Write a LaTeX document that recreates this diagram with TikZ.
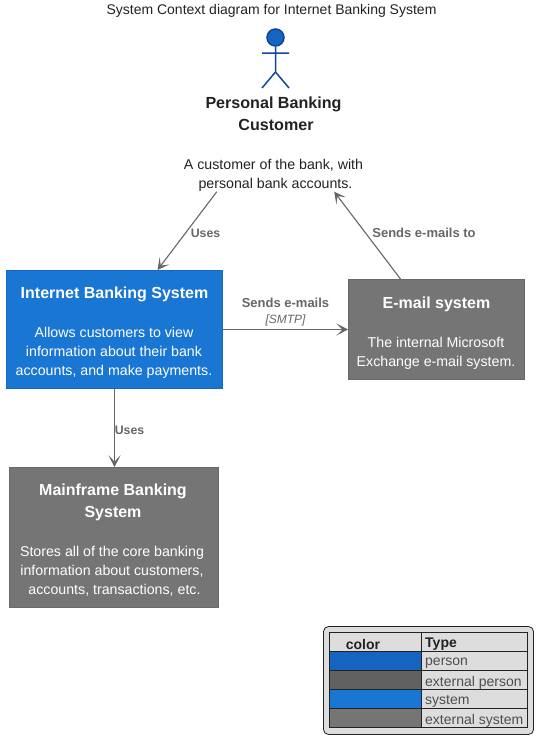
\documentclass[tikz,border=0pt]{standalone}
\usepackage{fontspec}
\setmainfont{Liberation Sans}
\usetikzlibrary{arrows.meta}
\definecolor{cperson}{HTML}{1565C0}
\definecolor{cperline}{HTML}{0D47A1}
\definecolor{cextp}{HTML}{616161}
\definecolor{csys}{HTML}{1976D2}
\definecolor{cext}{HTML}{757575}
\definecolor{clink}{HTML}{666666}
\definecolor{clegend}{HTML}{DDDDDD}
\definecolor{cdark}{HTML}{222222}
\newcommand{\fs}[2]{\fontsize{#1pt}{#2pt}\selectfont}
\tikzset{
  x=1pt,y=-1pt,
  ttl/.style={font=\fs{16}{22}\bfseries,text=white,align=center,inner sep=0pt,anchor=center},
  dsc/.style={font=\fs{14.2}{19},text=white,align=center,inner sep=0pt,anchor=center},
  link/.style={draw=clink,line width=1.1pt,-{Stealth[length=11.5pt,width=12pt,inset=6pt,line width=1pt,fill=clink]}},
  lbl/.style={font=\fs{13}{14}\bfseries,text=clink,inner sep=0pt,anchor=center},
  lbls/.style={font=\fs{12.3}{14}\bfseries,text=clink,inner sep=0pt,anchor=center},
  actor/.style={draw=cperline,line width=1.5pt},
  cellhead/.style={font=\fs{14}{14}\bfseries,text=cdark,inner sep=0pt,anchor=center},
  cell/.style={font=\fs{14}{14},text=cdark!80,inner sep=0pt,anchor=west},
  tline/.style={draw=cdark,line width=1pt},
}
\begin{document}
\begin{tikzpicture}
\useasboundingbox (0,0) rectangle (543,744);
\node[font=\fs{14}{16},text=cdark,inner sep=0pt] (title) at (271.5,11) {System Context diagram for Internet Banking System};
% actor
\node[circle,fill=cperson,draw=cperline,line width=1.5pt,minimum size=17pt,inner sep=0pt] (head) at (275.5,37.5) {};
\coordinate (hip) at (275.5,72);
\coordinate (arml) at (262,53);
\coordinate (armr) at (289,53);
\coordinate (legl) at (262,88);
\coordinate (legr) at (289,88);
\draw[actor] (head) -- (hip) (arml) -- (armr) (legl) -- (hip) -- (legr);
\node[font=\fs{16.1}{22}\bfseries,text=cdark,align=center,inner sep=0pt] (cust) at (273.5,113.5) {Personal Banking\\\hspace*{5pt}Customer};
\node[font=\fs{14.2}{19},text=cdark,align=center,inner sep=0pt,minimum width=183pt,minimum height=36pt] (desc) at (275.5,173.5) {};
\node[font=\fs{14.2}{19},text=cdark,align=center,inner sep=0pt] (desct) at (273.5,175) {A customer of the bank, with\\\hspace*{4pt}personal bank accounts.};
% boxes
\node[draw=csys!90!black,fill=csys,line width=1pt,minimum width=216pt,minimum height=118pt,inner sep=0pt] (ibs) at (114.5,329.5) {};
\node[ttl] (ibst) at (114.5,294.5) {Internet Banking System};
\node[dsc] (ibsd) at (114,353) {Allows customers to view\\information about their bank\\accounts, and make payments.};
\node[draw=cext!90!black,fill=cext,line width=1pt,minimum width=176pt,minimum height=100pt,inner sep=0pt] (mail) at (436.5,329.5) {};
\node[ttl] (mailt) at (436.5,304.5) {E-mail system};
\node[dsc] (maild) at (436,353.5) {The internal Microsoft\\Exchange e-mail system.};
\node[draw=cext!90!black,fill=cext,line width=1pt,minimum width=209pt,minimum height=140pt,inner sep=0pt] (main) at (113.5,537.5) {};
\node[ttl] (maint) at (113,502.5) {Mainframe Banking\\System};
\node[dsc] (maind) at (112,571) {Stores all of the core banking\\information about customers,\\\hspace*{5pt}accounts, transactions, etc.};
% links
\draw[link] ([xshift=33pt]desc.south west) -- ([xshift=43pt]ibs.north);
\draw[link] ([xshift=-36pt]mail.north) -- ([xshift=-33pt]desc.south east);
\draw[link] (ibs.east |- mail.center) -- (mail.west);
\draw[link] (ibs.south) -- (ibs.south |- main.north);
\node[lbls] (u1) at (205.5,233) {Uses};
\node[lbl] (u2) at (424,233) {Sends e-mails to};
\node[lbl] (u3) at (285.5,302.5) {Sends e-mails};
\node[font=\fs{12}{14}\itshape,text=clink,inner sep=0pt] (smtp) at (285.5,320.5) {[SMTP]};
\node[lbls] (u4) at (129.5,430) {Uses};
% legend
\draw[draw=cdark,fill=clegend,line width=0.8pt,rounded corners=5pt] (323.5,626.5) rectangle (533.5,734.5);
\fill[cperson] (329.5,651.5) rectangle (421.5,670.5);
\fill[cextp] (329.5,670.5) rectangle (421.5,689.5);
\fill[csys] (329.5,689.5) rectangle (421.5,708.5);
\fill[cext] (329.5,708.5) rectangle (421.5,727.5);
\draw[tline] (329.5,632.5) rectangle (527.5,727.5);
\draw[tline] (421.5,632.5) -- (421.5,727.5);
\foreach \y in {651.5,670.5,689.5,708.5} \draw[tline] (329.5,\y) -- (527.5,\y);
\node[cellhead] (lh1) at (363,644.5) {color};
\node[cellhead,anchor=west] (lh2) at (425,644.5) {Type};
\node[cell] (l1) at (425,663.5) {person};
\node[cell] (l2) at (425,682.5) {external person};
\node[cell] (l3) at (425,701.5) {system};
\node[cell] (l4) at (425,720.5) {external system};
\end{tikzpicture}
\end{document}
